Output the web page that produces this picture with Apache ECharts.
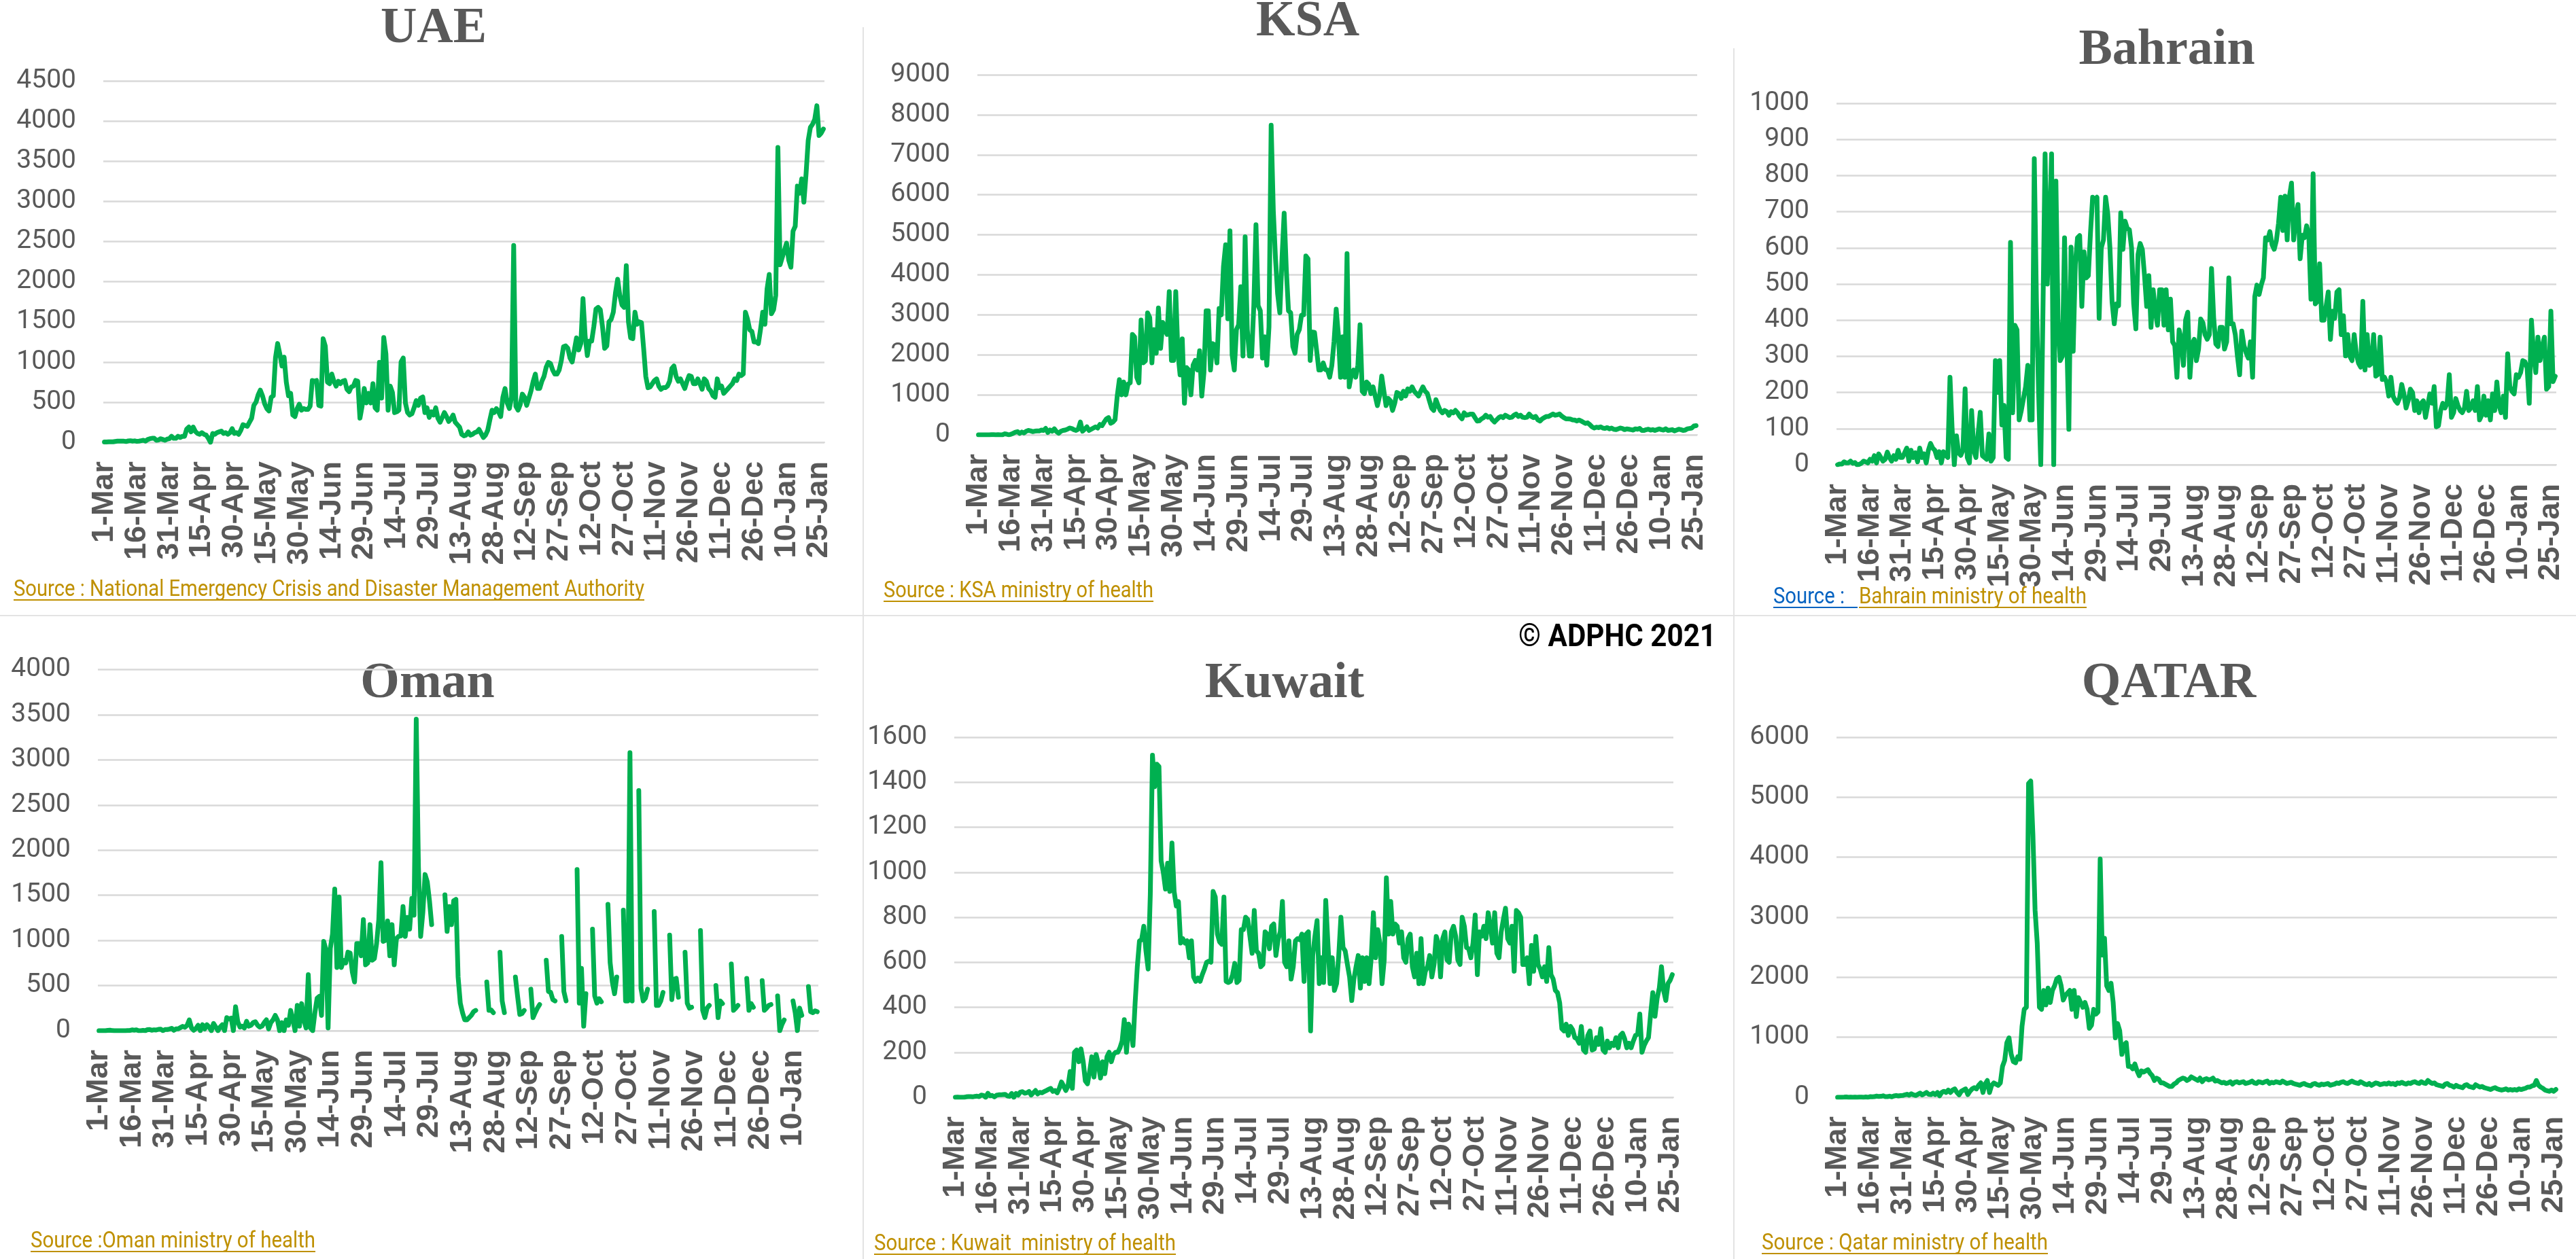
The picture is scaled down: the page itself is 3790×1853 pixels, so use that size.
<!DOCTYPE html>
<html><head><meta charset="utf-8">
<script src="https://cdn.jsdelivr.net/npm/echarts@6/dist/echarts.min.js"></script>
<style>html,body{margin:0;padding:0;background:#fff}#c{width:3790px;height:1853px}</style>
</head><body><div id="c"></div>
<script>
// ---------- DATA (daily new cases; day 0 = 1-Mar-2020) ----------
const countryNames = ['UAE', 'KSA', 'Bahrain', 'Oman', 'Kuwait', 'QATAR'];

const uaeCases = [
  5,5,6,6,6,11,14,14,15,14,10,17,20,15,18,
  12,15,20,25,15,35,45,50,50,25,30,45,35,25,40,
  45,75,50,50,75,60,75,75,165,190,130,190,135,110,100,
  120,100,90,50,0,110,100,120,130,140,110,120,100,120,170,
  110,120,100,150,220,210,200,250,300,460,500,590,650,580,480,
  420,390,560,580,1050,1230,1100,950,1060,750,580,610,340,320,420,
  475,400,420,410,410,450,770,760,770,460,450,1290,1200,750,730,
  850,760,700,760,730,760,770,660,630,690,700,770,760,300,450,
  670,490,610,490,730,430,400,995,550,1305,1100,400,700,620,370,
  380,400,1000,1050,490,370,340,355,430,520,460,550,565,370,430,
  310,380,340,430,300,250,310,370,320,260,290,340,250,220,190,
  100,80,90,130,90,100,120,130,160,110,60,90,150,280,400,
  370,420,380,320,560,670,490,420,560,2450,450,400,470,600,560,
  460,550,640,760,850,670,670,760,820,935,995,980,900,850,850,
  900,1020,1190,1200,1170,1050,1000,1150,1300,1150,1230,1790,1320,1080,1260,
  1260,1440,1660,1680,1650,1440,1170,1200,1500,1530,1620,1860,2030,1830,1710,
  1680,2200,1500,1300,1290,1620,1470,1500,1490,1170,820,680,690,730,770,
  790,700,660,680,680,700,760,920,950,820,760,790,730,670,760,
  830,820,730,730,790,730,660,790,760,670,640,580,560,790,680,
  700,610,640,670,700,730,790,770,850,830,850,1620,1530,1400,1380,
  1250,1250,1230,1410,1620,1470,1910,2090,1600,1650,1830,3670,2210,2300,2390,
  2480,2270,2180,2630,2690,3190,3100,3280,2990,3340,3760,3920,3960,4020,4190,
  3820,3850,3900
];

const ksaCases = [
  0,1,0,0,0,0,4,4,2,5,1,0,24,17,0,
  15,38,67,80,36,70,48,90,110,100,80,92,99,96,120,
  110,160,60,120,90,150,80,40,90,110,120,140,170,160,130,
  110,140,320,90,140,200,110,140,170,200,170,260,230,320,400,
  430,290,320,380,970,1380,1000,1320,1000,1270,1300,2510,2450,1440,1300,
  2870,1800,1850,3050,2930,1800,2630,2040,3170,2160,2810,2630,2510,3580,1860,
  1860,3580,2040,1500,2400,790,1680,1620,1000,1740,1860,1620,2100,970,1560,
  3100,3100,1620,2280,2250,1800,3160,3000,4200,4750,2900,5100,2000,1620,2630,
  2750,3700,1970,4950,2630,1970,1970,3230,5250,3230,3100,1920,2450,1740,2700,
  7740,5600,4410,3520,3050,4400,5540,4120,3100,3050,2210,2040,2510,2630,2990,
  3000,4470,4400,1860,2570,2560,2100,1620,1620,1800,1630,1620,1440,1740,2330,
  3140,2510,1440,2450,1440,4530,1200,1500,1620,1440,1740,2750,1090,1030,1320,
  1265,1030,1200,970,730,970,1470,1090,730,910,850,610,790,1060,1030,
  910,1090,970,1150,1090,1200,1090,1030,970,1090,1200,1090,1040,850,670,
  610,880,730,610,550,610,580,490,580,550,610,550,460,400,550,
  490,500,520,520,430,345,350,400,430,490,440,460,375,320,375,
  430,460,430,490,460,430,440,490,520,460,490,440,430,440,520,
  460,430,460,375,345,400,430,460,460,490,520,490,500,520,470,
  430,400,400,395,375,370,345,370,345,315,285,300,255,200,170,
  190,180,200,170,160,180,150,170,140,130,150,170,160,130,150,
  140,130,120,150,140,160,110,110,130,140,120,130,110,130,150,
  130,120,150,110,120,130,100,120,140,130,110,120,150,160,170,
  220,230
];

const bahrainCases = [
  0,2,2,8,5,5,10,4,6,0,1,4,10,8,5,
  15,10,25,5,30,20,10,15,35,20,10,25,15,40,20,
  20,33,46,10,40,20,33,8,46,20,30,5,40,59,46,
  40,20,36,5,36,26,20,242,98,0,80,33,26,40,210,
  20,5,150,40,20,85,145,25,20,15,85,10,20,288,200,
  288,110,164,20,15,615,144,386,373,124,150,183,216,275,124,
  124,847,450,200,0,420,860,500,650,860,0,785,400,288,300,
  628,360,98,602,314,556,628,634,438,589,517,523,641,740,733,
  740,405,600,622,740,694,600,450,390,445,440,697,596,674,654,
  650,600,445,376,582,612,595,523,438,523,380,484,425,386,484,
  484,386,484,373,458,340,330,242,373,347,275,400,422,242,334,
  347,288,320,403,393,360,347,360,543,405,334,327,380,380,320,
  340,517,390,390,360,300,249,370,330,310,295,340,242,465,497,
  471,497,517,628,622,645,609,596,620,668,740,648,743,622,740,
  779,622,687,720,570,635,628,661,635,458,805,445,452,556,400,
  400,438,478,347,425,405,478,484,360,412,301,360,300,288,360,
  307,281,270,452,262,360,275,280,360,245,250,353,236,242,229,
  190,242,190,177,170,185,222,196,157,177,209,200,150,177,144,
  170,177,131,164,196,170,216,105,108,150,170,157,170,249,131,
  144,183,164,150,144,157,203,150,157,177,150,216,124,137,190,
  137,177,124,196,150,229,164,144,190,131,307,216,203,196,249,
  242,255,288,285,268,170,400,307,255,353,288,327,353,209,216,
  425,230,245
];

// null = day without a report (the line breaks)
const omanCases = [
  0,0,0,0,4,6,1,0,0,0,0,0,0,1,2,
  9,6,9,0,0,4,0,11,13,5,10,8,15,17,0,
  13,13,18,27,5,20,21,35,48,38,60,120,30,5,25,
  60,0,66,20,66,40,0,80,40,0,40,66,0,145,130,
  140,0,265,100,40,50,30,105,50,60,90,100,60,40,50,
  90,120,20,90,120,170,120,0,90,0,120,60,225,120,0,
  280,50,300,120,30,620,30,0,200,360,380,170,990,900,30,
  910,1070,1570,700,1480,700,780,750,870,860,650,540,965,965,830,
  1230,730,750,1175,780,800,965,1230,1860,990,1000,1215,830,1175,730,
  1020,1045,1050,1375,1045,1255,1125,1465,1280,3450,1810,1045,1310,1730,1650,
  1440,1175,null,null,null,null,null,1505,1100,1375,1175,1440,1455,595,305,
  200,120,120,145,170,210,225,null,null,null,null,540,225,230,200,
  null,null,870,330,200,null,null,null,null,595,380,180,190,225,null,
  null,460,145,200,250,290,null,null,780,435,425,345,330,null,null,
  1045,435,330,null,null,null,null,1785,305,690,50,410,null,null,1125,
  385,305,355,320,null,null,1400,755,540,410,595,null,null,1335,330,
  330,3080,330,null,null,2660,470,330,360,460,null,null,1320,280,280,
  330,425,null,null,1060,345,570,580,370,null,null,870,305,250,260,
  null,null,null,1110,225,145,250,280,null,null,500,145,330,300,null,
  null,null,740,225,250,280,null,null,null,580,225,300,260,null,null,
  null,555,225,250,280,290,null,null,385,0,70,120,null,null,null,
  330,200,0,250,170,null,null,490,210,200,220,210
];

const kuwaitCases = [
  0,1,0,0,0,2,3,3,2,4,5,3,10,8,0,
  18,7,8,2,9,11,11,12,13,6,4,17,0,17,10,
  23,25,18,20,26,10,20,30,15,22,20,25,30,35,40,
  26,30,20,40,68,50,30,50,115,40,200,210,158,215,160,
  73,60,115,180,90,190,150,85,158,105,180,200,158,190,200,
  200,220,250,345,200,325,295,230,420,580,695,700,760,650,570,
  900,1520,1380,1480,1470,1050,1000,925,1040,915,1130,915,850,870,685,
  705,685,695,620,695,535,515,530,515,545,570,600,605,600,915,
  890,725,690,680,890,515,510,515,545,595,510,520,745,745,800,
  790,715,640,830,650,640,580,590,735,725,660,760,770,630,700,
  735,870,600,580,695,525,580,695,705,700,725,515,725,735,295,
  630,715,785,505,620,510,875,685,505,620,475,505,630,800,665,
  650,590,535,430,525,580,630,485,620,515,620,505,620,820,620,
  745,685,505,610,975,725,870,725,770,760,685,735,620,600,705,
  725,580,535,640,505,705,505,560,580,630,535,590,715,685,535,
  705,735,610,600,735,760,715,610,590,800,760,665,660,620,685,
  810,545,735,715,760,705,820,760,685,820,640,620,735,790,840,
  705,685,760,560,830,820,800,590,590,620,505,675,560,715,590,
  570,535,580,515,665,545,525,475,465,420,305,295,325,275,315,
  300,265,260,240,315,210,200,275,295,210,215,265,235,305,210,
  200,250,220,240,230,265,220,275,285,260,220,240,220,250,275,
  280,370,200,230,250,265,370,465,360,440,485,580,475,430,505,
  520,545
];

const qatarCases = [
  0,0,0,2,5,1,3,1,3,0,2,4,1,5,0,
  11,8,10,20,13,16,25,10,11,19,8,23,30,23,29,
  30,40,50,35,60,40,30,50,70,40,60,80,50,45,70,
  45,80,25,80,100,80,120,80,120,140,80,40,100,120,140,
  45,100,140,160,140,200,240,80,220,280,80,200,240,220,200,
  240,515,615,910,990,715,595,575,675,635,1185,1465,1500,5230,5270,
  4380,3120,2570,1500,1465,1780,1540,1820,1580,1780,1860,1975,2000,1860,1620,
  1700,1740,1780,1465,1780,1345,1660,1580,1500,1580,1465,1150,1200,1465,1385,
  1420,3970,2370,2650,1860,1780,1900,1580,990,1230,1110,715,870,910,515,
  515,475,555,440,360,440,420,440,460,400,360,280,320,300,240,
  240,220,200,180,180,220,240,280,300,320,310,280,300,340,320,
  300,280,320,260,300,310,290,300,320,270,280,260,240,250,230,
  240,260,220,250,260,240,250,260,230,240,250,270,240,230,260,
  250,240,260,270,230,250,240,260,250,240,270,250,230,240,250,
  230,220,210,200,220,230,210,200,190,220,230,210,200,220,210,
  220,230,200,210,220,240,230,250,260,240,230,250,270,250,240,
  230,260,240,220,210,230,200,220,240,230,210,220,230,220,240,
  220,230,210,240,230,250,230,220,240,230,250,260,240,230,260,
  240,230,280,250,230,240,210,200,190,180,220,230,200,190,170,
  200,180,170,160,200,210,180,170,160,210,190,170,180,160,150,
  140,130,150,160,140,130,120,130,140,120,130,120,130,120,140,
  130,140,150,170,170,190,200,280,200,170,150,120,110,100,120,
  100,130
];

const yAxisMax      = [4500, 9000, 1000, 4000, 1600, 6000];
const yAxisInterval = [500, 1000, 100, 500, 200, 1000];
const startDate = [2020, 2, 1];          // 1-Mar-2020
const monthNames = ['Jan','Feb','Mar','Apr','May','Jun','Jul','Aug','Sep','Oct','Nov','Dec'];
const tickEvery = 15;                    // 1-Mar, 16-Mar, 31-Mar, ...

const sourceTexts = [
  'Source : National Emergency Crisis and Disaster Management Authority',
  'Source : KSA ministry of health',
  'Bahrain ministry of health',
  'Source :Oman ministry of health',
  'Source : Kuwait  ministry of health',
  'Source : Qatar ministry of health'
];
const copyrightText = '\u00A9 ADPHC 2021';

// ---------- LAYOUT ----------
const seriesData = [uaeCases, ksaCases, bahrainCases, omanCases, kuwaitCases, qatarCases];
const grids = [
  {left: 152,  top: 119,   width: 1061, height: 532},
  {left: 1438, top: 110,   width: 1059, height: 530},
  {left: 2702, top: 152,   width: 1059, height: 532},
  {left: 144,  top: 985.5, width: 1060, height: 531.5},
  {left: 1404, top: 1085,  width: 1058, height: 530},
  {left: 2702, top: 1085,  width: 1060, height: 530}
];
const titlePos = [[638,43],[1924,33],[3188,75],[629,1007],[1890,1007],[3191,1007]];
// [left x, center y, target width]
const sourcePos = [[20,868,928],[1300,870,397],[2735,879,335],[45,1827,419],[1286,1831,444],[2592,1830,421]];

function dayLabels(n) {
  const out = [];
  const d = new Date(Date.UTC(startDate[0], startDate[1], startDate[2]));
  for (let i = 0; i < n; i++) {
    out.push(d.getUTCDate() + '-' + monthNames[d.getUTCMonth()]);
    d.setUTCDate(d.getUTCDate() + 1);
  }
  return out;
}

const measureCtx = document.createElement('canvas').getContext('2d');
function fitScale(text, font, target) {
  measureCtx.font = font;
  return target / measureCtx.measureText(text).width;
}

const GREEN = '#00B050', GRID = '#D9D9D9', GRAY = '#595959', GOLD = '#BF9000', BLUE = '#0563C1';
const chart = echarts.init(document.getElementById('c'), null, {renderer: 'canvas'});

const option = {
  animation: false,
  backgroundColor: '#ffffff',
  grid: [], xAxis: [], yAxis: [], series: [], graphic: []
};

seriesData.forEach((data, i) => {
  option.grid.push(Object.assign({containLabel: false, outerBoundsMode: 'none'}, grids[i]));
  option.xAxis.push({
    type: 'category', gridIndex: i, data: dayLabels(data.length), boundaryGap: true,
    axisLine: {show: true, lineStyle: {color: GRID, width: 2}},
    axisTick: {show: false},
    axisLabel: {
      interval: (idx) => idx % tickEvery === 0, rotate: 90, margin: 28,
      color: GRAY, fontFamily: '"Liberation Sans", Arial, sans-serif', fontWeight: 'bold', fontSize: 45
    },
    splitLine: {show: false}
  });
  option.yAxis.push({
    type: 'value', gridIndex: i, min: 0, max: yAxisMax[i], interval: yAxisInterval[i],
    axisLine: {show: false}, axisTick: {show: false},
    axisLabel: {color: GRAY, fontFamily: 'Roboto, sans-serif', fontSize: 39, margin: 40, formatter: (v) => String(v)},
    splitLine: {show: true, lineStyle: {color: GRID, width: 2.5}}
  });
  option.series.push({
    type: 'line', xAxisIndex: i, yAxisIndex: i, data: data, name: countryNames[i],
    showSymbol: false, symbol: 'none', connectNulls: false,
    lineStyle: {color: GREEN, width: 7, join: 'round', cap: 'round'}
  });
  // title
  option.graphic.push({
    type: 'text', x: titlePos[i][0], y: titlePos[i][1], silent: true,
    style: {text: countryNames[i], font: 'bold 74px "Liberation Serif", "Times New Roman", serif',
            fill: GRAY, textAlign: 'center', textVerticalAlign: 'middle'}
  });
  // source
  const sf = '34px Roboto, sans-serif';
  const [sx, sy, sw] = sourcePos[i];
  option.graphic.push({
    type: 'text', x: sx, y: sy, scaleX: fitScale(sourceTexts[i], sf, sw), silent: true,
    style: {text: sourceTexts[i], font: sf, fill: GOLD, textAlign: 'left', textVerticalAlign: 'middle'}
  });
  option.graphic.push({
    type: 'line', silent: true,
    shape: {x1: sx, y1: sy + 15, x2: sx + sw, y2: sy + 15},
    style: {stroke: GOLD, lineWidth: 2}
  });
});

// Bahrain "Source :" in blue
(function () {
  const sf = '34px Roboto, sans-serif';
  option.graphic.push({
    type: 'text', x: 2609, y: 879, scaleX: fitScale('Source :', sf, 105), silent: true,
    style: {text: 'Source :', font: sf, fill: BLUE, textAlign: 'left', textVerticalAlign: 'middle'}
  });
  option.graphic.push({
    type: 'line', silent: true, shape: {x1: 2609, y1: 894, x2: 2733, y2: 894},
    style: {stroke: BLUE, lineWidth: 2}
  });
})();

// copyright
(function () {
  const cf = 'bold 46px Roboto, sans-serif';
  option.graphic.push({
    type: 'text', x: 2234, y: 939, scaleX: fitScale(copyrightText, cf, 291), silent: true,
    style: {text: copyrightText, font: cf, fill: '#000000', textAlign: 'left', textVerticalAlign: 'middle'}
  });
})();

// panel separators
[
  [0, 906, 3790, 906],
  [1270, 40, 1270, 1853],
  [2551, 71, 2551, 1853]
].forEach(([x1, y1, x2, y2]) => option.graphic.push({
  type: 'line', silent: true, z: -1, shape: {x1, y1, x2, y2}, style: {stroke: '#E3E3E3', lineWidth: 2}
}));

chart.setOption(option);
</script></body></html>
